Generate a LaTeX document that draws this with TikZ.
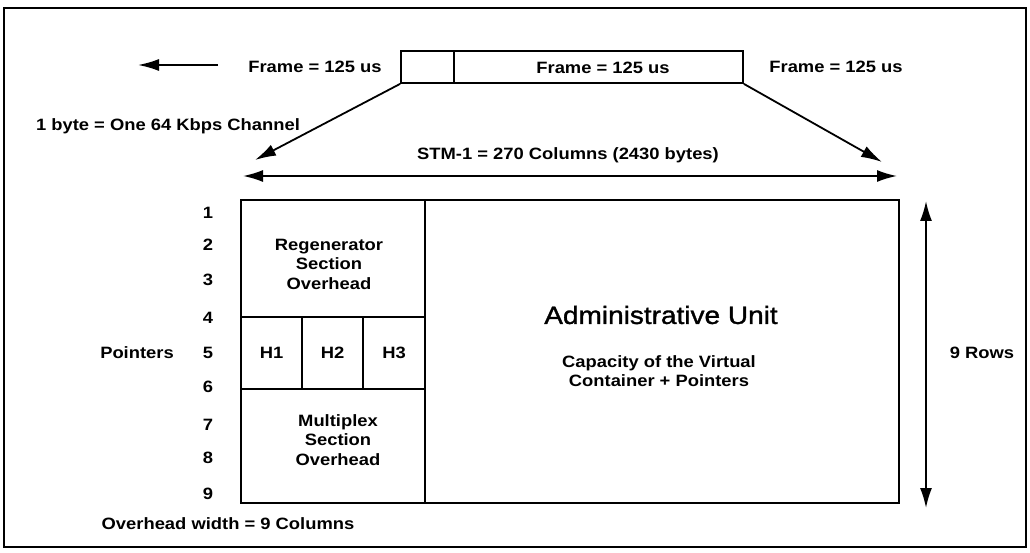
\documentclass[tikz,border=0pt]{standalone}
\usepackage{fontspec}
\setmainfont{Liberation Sans}[FakeStretch=1.12]
\newfontfamily\aufont{Liberation Sans}[FakeStretch=1.12, FakeBold=1.3]
\usetikzlibrary{arrows.meta}
\begin{document}
\begin{tikzpicture}[x=1pt,y=-1pt,
  lbl/.style={font=\fontsize{16.4}{19.5}\selectfont\bfseries, inner sep=0pt, align=center},
  big/.style={font=\fontsize{25}{30}\selectfont\aufont, inner sep=0pt, align=center},
  cell/.style={draw, line width=2.4pt, inner sep=0pt, font=\fontsize{16.4}{19.5}\selectfont\bfseries},
  thincell/.style={draw, line width=1.8pt, inner sep=0pt},
  arr/.style={line width=1.8pt, -{Latex[length=21pt,width=12pt]}},
  darr/.style={line width=1.8pt, {Latex[length=20pt,width=12pt]}-{Latex[length=20pt,width=12pt]}}]
\useasboundingbox (0,0) rectangle (1030,553);
\fill[white] (0,0) rectangle (1030,553);
% outer frame
\draw[line width=2pt] (4,8) rectangle (1026,547);

% top frame strip
\node[thincell, minimum width=53, minimum height=32] (fs) at (427.5,67) {};
\node[thincell, minimum width=289, minimum height=32] (fl) at (598.5,67) {};
\node[lbl] (fM) at (603,68) {Frame = 125 us};
\node[lbl] (fL) at (315,67) {Frame = 125 us};
\node[lbl] (fR) at (836,67) {Frame = 125 us};
\coordinate (la1) at (218,65);
\coordinate (la2) at (138,65);
\draw[arr] (la1) -- (la2);

\node[lbl] (byte) at (168,126) {1 byte = One 64 Kbps Channel};

% diagonal arrows
\coordinate (ltip) at (255,160);
\coordinate (rtip) at (882,162);
\draw[arr] (fs.south west) -- (ltip);
\draw[arr] (fl.south east) -- (rtip);

% STM width
\node[lbl] (stm) at (568,155) {STM-1 = 270 Columns (2430 bytes)};
\coordinate (sl) at (243,176);
\coordinate (sr) at (897,176);
\draw[darr] (sl) -- (sr);

% main frame cells
\node[cell, minimum width=184, minimum height=117] (rsoh) at (333,258.5) {};
\node[cell, minimum width=61, minimum height=72] (h1) at (271.5,353) {H1};
\node[cell, minimum width=61, minimum height=72] (h2) at (332.5,353) {H2};
\node[cell, minimum width=62, minimum height=72] (h3) at (394,353) {H3};
\node[cell, minimum width=184, minimum height=114] (msoh) at (333,446) {};
\node[cell, minimum width=474, minimum height=303] (au) at (662,351.5) {};

\node[lbl] (rsohT) at (329,264) {Regenerator\\Section\\Overhead};
\node[lbl] (msohT) at (338,440) {Multiplex\\Section\\Overhead};

\node[big] (auT) at (661,315) {Administrative Unit};
\node[lbl] (capT) at (659,371) {Capacity of the Virtual\\Container + Pointers};

% row numbers
\foreach \r/\y in {1/213,2/245,3/280,4/318,5/353,6/387,7/425,8/458,9/494}
  \node[lbl] (row\r) at (208,\y) {\r};
\node[lbl] (ptr) at (137,353) {Pointers};

% 9 rows arrow
\coordinate (rt) at (926,201);
\coordinate (rb) at (926,508);
\draw[darr] (rt) -- (rb);
\node[lbl] (rows) at (982,353) {9 Rows};

\node[lbl] (ohw) at (228,524) {Overhead width = 9 Columns};
\end{tikzpicture}
\end{document}
